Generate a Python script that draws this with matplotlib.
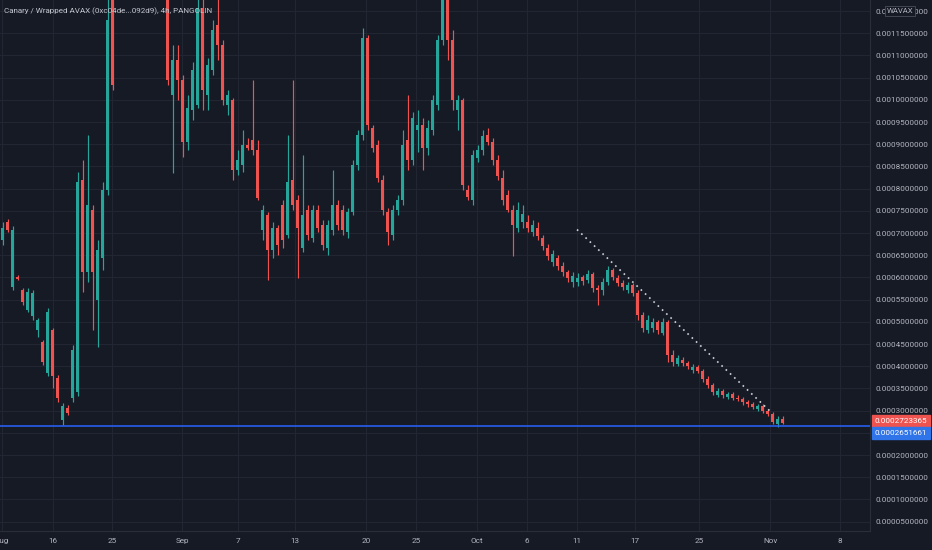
import numpy as np
import matplotlib
matplotlib.use("Agg")
import matplotlib.pyplot as plt

plt.rcParams['font.family'] = ['Roboto', 'DejaVu Sans']

title = "Canary / Wrapped AVAX (0xc04de...092d9), 4h, PANGOLIN"
quote = "WAVAX"
unit = 1e-5  # values below are in 0.00001 WAVAX
nan = np.nan

# one candle per 12h bar; nan = bar above the visible range
opens = [68.5, 72.5, 57.9, 60.1, 57.2, 52.7, 51.3, 48.2, 45.5, 38.5,
         48.2, 37.4, 27.9, 30.6, 32.9, 34.2, 82.0, 61.2, 75.2, 54.9,
         64.4, 79.7, 127.0, nan, nan, nan, nan, nan, nan, nan,
         nan, nan, nan, 124.8, 101.1, 109.0, 104.5, 90.5, 97.7, 98.9,
         120.7, 101.1, 106.7, 116.9, 112.4, 98.9, 100.0, 84.2, 85.3, 89.8,
         91.0, 88.7, 70.7, 74.1, 66.2, 71.2, 76.3, 69.6, 82.0, 77.5,
         66.7, 75.2, 68.9, 75.2, 71.8, 66.7, 70.7, 76.3, 75.2, 70.3,
         74.8, 85.3, 92.1, 113.9, 93.7, 89.8, 82.0, 74.8, 69.6, 75.2,
         77.5, 91.0, 86.5, 93.2, 94.4, 89.2, 93.2, 98.9, 113.5, 123.6,
         113.5, 97.7, 100.0, 79.7, 77.5, 86.9, 88.7, 92.1, 90.5, 86.5,
         82.4, 78.6, 75.2, 71.2, 72.5, 72.5, 70.3, 71.2, 68.9, 66.7,
         63.5, 64.4, 62.6, 61.2, 59.0, 59.0, 60.1, 59.4, 60.8, 57.6,
         57.2, 59.0, 61.7, 59.9, 58.8, 57.2, 58.3, 56.5, 51.6, 48.2,
         48.6, 50.0, 47.5, 50.0, 42.6, 40.5, 41.4, 40.7, 39.2, 39.9,
         39.0, 37.2, 35.8, 33.5, 34.4, 33.1, 33.8, 32.9, 32.6, 32.0,
         31.5, 30.4, 31.1, 29.9, 29.3, 27.0, 28.1]
highs = [72.5, 73.2, 71.6, 60.6, 57.6, 57.6, 57.2, 50.9, 45.9, 53.1,
         48.6, 38.0, 31.7, 31.3, 44.8, 83.8, 86.5, 92.1, 76.3, 68.5,
         81.5, 136.0, 138.3, nan, nan, nan, nan, nan, nan, nan,
         nan, nan, nan, 129.3, 112.4, 112.4, 105.6, 101.1, 108.5, 127.0,
         123.6, 109.4, 118.0, 124.8, 113.5, 102.2, 100.4, 88.7, 93.2, 91.4,
         104.5, 91.0, 76.3, 74.8, 72.5, 71.8, 77.5, 92.1, 104.5, 78.6,
         87.6, 76.3, 76.3, 76.3, 73.0, 73.0, 84.2, 77.5, 76.3, 75.7,
         86.5, 93.2, 116.2, 114.6, 94.4, 91.0, 83.1, 75.7, 76.3, 78.6,
         93.2, 101.1, 97.3, 97.7, 95.9, 95.5, 101.1, 114.6, 129.3, 129.3,
         115.7, 101.1, 100.4, 80.8, 88.7, 89.8, 93.2, 93.7, 91.4, 87.6,
         84.2, 79.7, 76.3, 77.0, 76.3, 74.1, 73.0, 72.5, 69.6, 67.6,
         66.2, 65.1, 63.5, 61.7, 61.2, 61.0, 60.6, 61.7, 61.2, 58.3,
         59.9, 62.6, 62.1, 60.6, 59.4, 59.0, 58.8, 57.2, 52.2, 51.6,
         50.9, 50.4, 50.9, 50.4, 43.7, 42.6, 42.1, 41.2, 40.5, 40.3,
         39.4, 37.8, 36.3, 35.1, 34.9, 34.2, 34.2, 33.5, 33.1, 32.4,
         32.0, 31.5, 31.5, 30.4, 29.7, 28.8, 28.8]
lows = [67.3, 70.3, 57.2, 59.4, 53.8, 52.2, 50.4, 46.6, 40.3, 37.8,
        35.1, 32.0, 26.8, 29.0, 32.0, 33.3, 56.7, 59.0, 48.2, 44.4,
        61.7, 78.6, 102.2, nan, nan, nan, nan, nan, nan, nan,
        nan, nan, nan, 103.4, 83.5, 100.0, 87.1, 88.7, 95.5, 98.2,
        97.7, 97.7, 105.6, 109.0, 98.9, 96.6, 82.0, 83.1, 83.8, 88.7,
        87.6, 77.5, 68.5, 59.4, 64.4, 65.1, 66.7, 68.9, 75.2, 59.9,
        65.7, 68.5, 68.0, 70.3, 66.2, 65.1, 69.6, 70.7, 69.6, 68.9,
        74.1, 84.2, 91.0, 93.2, 88.3, 81.5, 74.1, 67.3, 68.5, 74.1,
        76.3, 84.2, 85.3, 88.3, 84.2, 87.6, 92.1, 97.7, 112.4, 109.0,
        97.7, 93.2, 79.7, 77.5, 76.3, 86.0, 87.6, 89.8, 85.3, 82.0,
        76.3, 74.8, 64.9, 70.3, 71.2, 70.3, 69.4, 68.5, 66.2, 64.0,
        62.6, 61.7, 60.3, 59.0, 57.9, 58.1, 58.3, 58.8, 56.7, 53.8,
        56.1, 58.3, 59.4, 58.1, 57.2, 56.5, 55.8, 50.4, 47.7, 47.5,
        47.7, 47.3, 47.1, 41.0, 40.1, 40.1, 40.1, 39.4, 38.5, 38.5,
        36.5, 35.1, 33.5, 33.1, 32.9, 32.6, 32.4, 32.2, 31.3, 30.8,
        30.4, 29.9, 29.5, 28.8, 27.0, 26.3, 27.0]
closes = [71.2, 70.7, 70.7, 59.7, 54.5, 56.7, 56.5, 50.4, 41.0, 52.2,
          37.8, 32.9, 31.1, 29.5, 43.7, 81.5, 61.2, 76.3, 61.2, 66.2,
          79.7, 118.0, 103.4, nan, nan, nan, nan, nan, nan, nan,
          nan, nan, nan, 104.5, 109.0, 104.5, 90.5, 98.2, 106.7, 120.7,
          102.2, 107.9, 115.7, 112.4, 100.0, 101.1, 84.2, 86.5, 89.8, 89.2,
          88.7, 77.9, 75.2, 66.2, 71.2, 67.3, 68.5, 81.5, 76.3, 71.2,
          74.1, 69.6, 75.2, 71.2, 67.3, 71.8, 76.3, 71.8, 70.7, 74.8,
          85.3, 92.1, 113.9, 94.4, 89.2, 82.4, 75.2, 70.3, 75.2, 77.5,
          89.8, 86.5, 95.9, 94.4, 89.2, 93.7, 100.0, 113.5, 123.6, 113.5,
          100.0, 100.0, 80.8, 78.1, 87.6, 88.7, 91.9, 90.5, 86.5, 82.9,
          77.5, 75.2, 71.8, 75.2, 74.3, 71.2, 71.8, 69.4, 67.1, 64.9,
          65.3, 62.6, 61.2, 59.9, 60.3, 59.9, 59.2, 60.8, 57.6, 57.2,
          59.0, 61.7, 60.1, 58.8, 57.9, 58.3, 56.5, 51.6, 48.6, 50.4,
          50.0, 48.2, 50.0, 42.6, 41.0, 41.9, 40.7, 40.1, 39.9, 39.0,
          37.2, 35.8, 34.2, 34.4, 33.5, 33.8, 32.9, 32.6, 32.0, 31.5,
          30.8, 31.1, 29.9, 29.3, 27.5, 28.1, 27.23365]

date_labels = ["Aug", "16", "25", "Sep", "7", "13", "20", "25", "Oct",
               "6", "11", "17", "25", "Nov", "8"]
date_bars = [-0.1, 10.1, 21.9, 35.9, 47.1, 58.5, 72.7, 82.7, 94.9,
             104.9, 114.9, 126.5, 139.3, 153.5, 167.5]

support_price = 0.0002651661
trend_bars = [114.9, 153.7]
trend_prices = [70.8, 29.7]

o = np.array(opens) * unit
h = np.array(highs) * unit
l = np.array(lows) * unit
c = np.array(closes) * unit
x = np.arange(len(o))

bg = "#161a25"
grid = "#222633"
txt = "#b2b5be"
up = "#26a69a"
down = "#ef5350"

fig = plt.figure(figsize=(9.32, 5.5), dpi=100, facecolor=bg)
ax = fig.add_axes([0, 19 / 550, 870 / 932, 531 / 550], facecolor=bg)

ok = ~np.isnan(c)
cols = np.where(c >= o, up, down)
ax.vlines(x[ok], l[ok], h[ok], colors=cols[ok], lw=0.85, zorder=3)
body = np.maximum(np.abs(c - o), 0.25 * unit)
ax.bar(x[ok], body[ok], bottom=np.minimum(o, c)[ok], width=0.5,
       color=cols[ok], linewidth=0, zorder=4)

ax.axhline(support_price, color="#2962ff", lw=1.1, zorder=5)
ax.plot(trend_bars, np.array(trend_prices) * unit, color="#d1d4dc",
        lw=1.2, linestyle=(0, (1, 2.5)), zorder=6)

ax.set_xlim(-0.5, 173.5)
ax.set_ylim(2.9 * unit, 122.5 * unit)

yt = np.arange(1, 25) * 5 * unit
ax.set_yticks(yt)
ax.set_yticklabels([f"{v:.10f}" for v in yt])
ax.yaxis.tick_right()
ax.set_xticks(date_bars)
ax.set_xticklabels(date_labels)
ax.tick_params(axis="both", length=0, colors=txt, labelsize=5.9)
ax.tick_params(axis="y", pad=4)
ax.tick_params(axis="x", pad=5)
ax.grid(True, color=grid, lw=0.8, zorder=0)
for s in ["top", "left"]:
    ax.spines[s].set_visible(False)
for s in ["right", "bottom"]:
    ax.spines[s].set_color("#2a2e39")
    ax.spines[s].set_linewidth(0.8)

ytr = ax.get_yaxis_transform()
ax.annotate(f"{c[-1]:.10f}", xy=(1.0, c[-1]), xycoords=ytr,
            xytext=(3.5, 1.5), textcoords="offset points", va="center",
            ha="left", color="white", fontsize=5.9, zorder=10,
            annotation_clip=False,
            bbox=dict(boxstyle="square,pad=0.35", fc=down, ec=down))
ax.annotate(f"{support_price:.10f}", xy=(1.0, support_price), xycoords=ytr,
            xytext=(3.5, -5.0), textcoords="offset points", va="center",
            ha="left", color="white", fontsize=5.9, zorder=10,
            annotation_clip=False,
            bbox=dict(boxstyle="square,pad=0.35", fc="#2f74e8", ec="#2f74e8"))

fig.text(900 / 932, 1 - 11 / 550, quote, color=txt, fontsize=5.6,
         ha="center", va="center", zorder=20,
         bbox=dict(boxstyle="square,pad=0.25", fc=bg, ec="#4a4e5a", lw=0.6))

ax.text(0.005, 1 - 11 / 531, title, transform=ax.transAxes, color="#c3c6ce",
        fontsize=5.8, ha="left", va="center", zorder=20)

fig.savefig("out.png", dpi=100, facecolor=bg)
